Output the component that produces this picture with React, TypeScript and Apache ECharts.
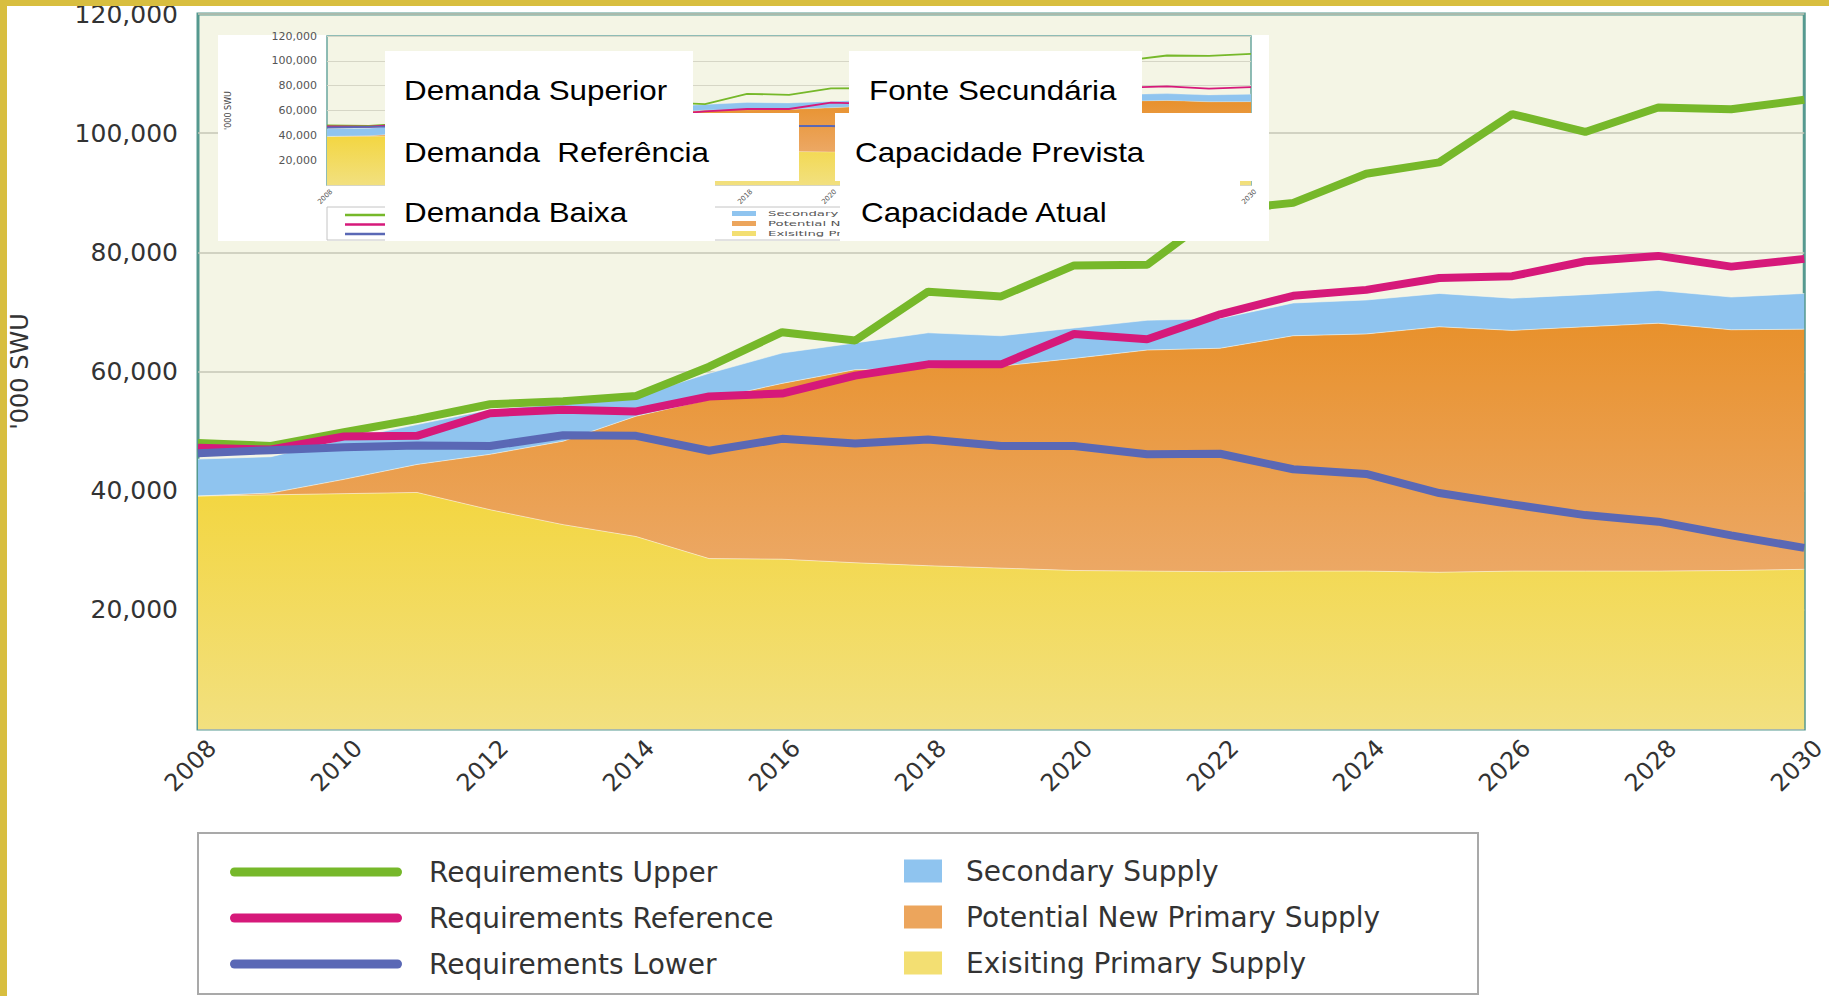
import React, { useEffect, useRef } from "react";
import * as echarts from "echarts";

const years = ["2008", "2009", "2010", "2011", "2012", "2013", "2014", "2015", "2016", "2017", "2018", "2019", "2020", "2021", "2022", "2023", "2024", "2025", "2026", "2027", "2028", "2029", "2030"];

// stacked supply layers ('000 SWU)
const existingPrimarySupply = [39100, 39300, 39500, 39700, 36800, 34300, 32300, 28600, 28500, 27900, 27400, 27000, 26600, 26500, 26400, 26500, 26500, 26300, 26500, 26500, 26500, 26600, 26800];
const potentialNewPrimarySupply = [0, 300, 2400, 4700, 9300, 14000, 20200, 26700, 29500, 32400, 33200, 33900, 35600, 37100, 37500, 39500, 39800, 41200, 40400, 41000, 41600, 40400, 40300];
const secondarySupply = [6200, 6100, 6700, 6700, 7500, 6300, 3300, 4400, 5100, 4500, 5900, 5100, 5100, 5000, 5000, 5500, 5700, 5600, 5400, 5400, 5500, 5500, 6000];

// requirement scenarios ('000 SWU)
const requirementsUpper = [48000, 47500, 49800, 52000, 54500, 55000, 55900, 60800, 66600, 65200, 73400, 72600, 77800, 77900, 87000, 88300, 93200, 95100, 103200, 100200, 104300, 104000, 105600];
const requirementsReference = [47200, 46900, 49100, 49200, 53000, 53600, 53300, 55800, 56300, 59300, 61200, 61200, 66300, 65400, 69600, 72700, 73700, 75700, 76000, 78500, 79400, 77600, 78900];
const requirementsLower = [46300, 46800, 47300, 47600, 47500, 49300, 49200, 46700, 48700, 47900, 48600, 47500, 47500, 46100, 46200, 43600, 42800, 39600, 37700, 35900, 34800, 32500, 30400];

const yMin = 0;
const yMax = 120000;
const yInterval = 20000;

const lineNames = ["Requirements Upper", "Requirements Reference", "Requirements Lower"];
const areaNames = ["Secondary Supply", "Potential New Primary Supply", "Exisiting Primary Supply"];

// Portuguese overlay labels
const ptLeft = ["Demanda Superior", "Demanda  Referência", "Demanda Baixa"];
const ptRight = ["Fonte Secundária", "Capacidade Prevista", "Capacidade Atual"];

const C = {
  upper: "#76b82a",
  reference: "#d6197a",
  lower: "#5a68b5",
  secondary: "#8fc4ef",
  orangeTop: "#e8912c",
  orangeBottom: "#eca865",
  yellowTop: "#f3d641",
  yellowBottom: "#f2e07f",
  plotBg: "#f4f5e5",
  frame: "#55998f",
  border: "#d8be3f",
};

const grad = (a: string, b: string) => ({
  type: "linear", x: 0, y: 0, x2: 0, y2: 1,
  colorStops: [{ offset: 0, color: a }, { offset: 1, color: b }],
});

const fmt = (v: number) => (v === 0 ? "" : v.toLocaleString("en-US"));

function buildSeries(axis: number, lineWidth: number, z: number, stack: string) {
  const areaBase = {
    type: "line", xAxisIndex: axis, yAxisIndex: axis, stack, symbol: "none", z,
    lineStyle: { width: axis === 0 ? 1 : 0.5, color: "rgba(255,252,235,0.55)" },
    emphasis: { disabled: true },
  };
  const lineBase = { type: "line", xAxisIndex: axis, yAxisIndex: axis, symbol: "none", z: z + 1, emphasis: { disabled: true } };
  return [
    { ...areaBase, name: areaNames[2], data: existingPrimarySupply, itemStyle: { color: "#f3df72" }, areaStyle: { color: grad(C.yellowTop, C.yellowBottom), opacity: 1 } },
    { ...areaBase, name: areaNames[1], data: potentialNewPrimarySupply, itemStyle: { color: "#eca55c" }, areaStyle: { color: grad(C.orangeTop, C.orangeBottom), opacity: 1 } },
    { ...areaBase, name: areaNames[0], data: secondarySupply, itemStyle: { color: C.secondary }, areaStyle: { color: C.secondary, opacity: 1 } },
    { ...lineBase, name: lineNames[0], data: requirementsUpper, itemStyle: { color: C.upper }, lineStyle: { width: lineWidth, color: C.upper } },
    { ...lineBase, name: lineNames[1], data: requirementsReference, itemStyle: { color: C.reference }, lineStyle: { width: lineWidth, color: C.reference } },
    { ...lineBase, name: lineNames[2], data: requirementsLower, itemStyle: { color: C.lower }, lineStyle: { width: lineWidth, color: C.lower } },
  ];
}

const capsule = "path://M4.5,0 L167.5,0 A4.5,4.5 0 0 1 167.5,9 L4.5,9 A4.5,4.5 0 0 1 4.5,0 Z";

export default function App() {
  const ref = useRef<HTMLDivElement>(null);
  useEffect(() => {
    if (!ref.current) return;
    const chart = echarts.init(ref.current, null, { renderer: "svg" });
    const lineColors = [C.upper, C.reference, C.lower];
    const areaColors = [C.secondary, "#eca55c", "#f3df72"];

    const graphic: any[] = [
      // legend frame
      { type: "rect", z: 3, shape: { x: 198, y: 833, width: 1280, height: 161 }, style: { fill: "#ffffff", stroke: "#a9a9a9", lineWidth: 2 } },
      // inset white background
      { type: "rect", z: 10, shape: { x: 218, y: 35, width: 1051, height: 206 }, style: { fill: "#ffffff" } },
      // inset legend
      { type: "rect", z: 14, shape: { x: 327, y: 207, width: 780, height: 33 }, style: { fill: "#ffffff", stroke: "#c4c4c4", lineWidth: 1 } },
      ...lineColors.map((c, i) => ({ type: "line", z: 15, shape: { x1: 345, y1: 215 + i * 9.5, x2: 398, y2: 215 + i * 9.5 }, style: { stroke: c, lineWidth: 2.5 } })),
      ...areaColors.map((c, i) => ({ type: "rect", z: 15, shape: { x: 732, y: 211 + i * 10, width: 24, height: 5 }, style: { fill: c } })),
      ...areaNames.map((t, i) => ({ type: "text", z: 15, x: 768, y: 213.5 + i * 10, scaleX: 1.9, style: { text: t, fontSize: 7, fontFamily: "DejaVu Sans", fill: "#555", verticalAlign: "middle", align: "left" } })),
      // white label boxes
      { type: "rect", z: 20, shape: { x: 385, y: 51, width: 308, height: 62 }, style: { fill: "#ffffff" } },
      { type: "rect", z: 20, shape: { x: 385, y: 113, width: 414, height: 68 }, style: { fill: "#ffffff" } },
      { type: "rect", z: 20, shape: { x: 385, y: 181, width: 330, height: 60 }, style: { fill: "#ffffff" } },
      { type: "rect", z: 20, shape: { x: 849, y: 51, width: 293, height: 62 }, style: { fill: "#ffffff" } },
      { type: "rect", z: 20, shape: { x: 835, y: 113, width: 434, height: 68 }, style: { fill: "#ffffff" } },
      { type: "rect", z: 20, shape: { x: 840, y: 181, width: 400, height: 60 }, style: { fill: "#ffffff" } },
      ...ptLeft.map((t, i) => ({ type: "text", z: 21, x: 404, y: [90, 152, 212][i], scaleX: 1.12, style: { text: t, fontSize: 28, fontFamily: "Liberation Sans", fill: "#000", verticalAlign: "middle", align: "left" } })),
      ...ptRight.map((t, i) => ({ type: "text", z: 21, x: [869, 855, 861][i], y: [90, 152, 212][i], scaleX: 1.12, style: { text: t, fontSize: 28, fontFamily: "Liberation Sans", fill: "#000", verticalAlign: "middle", align: "left" } })),
      // slide border
      { type: "rect", z: 30, shape: { x: 0, y: 0, width: 1829, height: 6 }, style: { fill: C.border } },
      { type: "rect", z: 30, shape: { x: 0, y: 0, width: 7, height: 996 }, style: { fill: C.border } },
    ];

    const option: any = {
      animation: false,
      backgroundColor: "#ffffff",
      grid: [
        { left: 198, top: 14, width: 1610, height: 715, show: true, backgroundColor: C.plotBg, borderColor: C.frame, borderWidth: 3, z: 0 },
        { left: 327, top: 36, width: 924, height: 149, show: true, backgroundColor: C.plotBg, borderColor: "#6aa69e", borderWidth: 1.5, z: 11 },
      ],
      xAxis: [
        {
          type: "category", gridIndex: 0, data: years, boundaryGap: false,
          axisLine: { show: false }, axisTick: { show: false }, splitLine: { show: false },
          axisLabel: { interval: 1, rotate: 45, fontSize: 24, fontFamily: "DejaVu Sans", color: "#333", margin: 1, verticalAlign: "top", padding: [8, 0, 0, 0] },
        },
        {
          type: "category", gridIndex: 1, data: years, boundaryGap: false, z: 12,
          axisLine: { show: false }, axisTick: { show: false }, splitLine: { show: false },
          axisLabel: { interval: 1, rotate: 45, fontSize: 7, fontFamily: "DejaVu Sans", color: "#555", margin: 1, verticalAlign: "top", padding: [3, 0, 0, 0] },
        },
      ],
      yAxis: [
        {
          type: "value", gridIndex: 0, min: yMin, max: yMax, interval: yInterval,
          name: "'000 SWU", nameLocation: "middle", nameGap: 166,
          nameTextStyle: { fontSize: 24, fontFamily: "DejaVu Sans", color: "#333" },
          axisLine: { show: false }, axisTick: { show: false },
          splitLine: { show: true, lineStyle: { color: "#c6c6b6", width: 1.5 } },
          axisLabel: { formatter: fmt, fontSize: 25, fontFamily: "DejaVu Sans", color: "#333", margin: 20 },
        },
        {
          type: "value", gridIndex: 1, min: yMin, max: yMax, interval: yInterval, z: 12,
          name: "'000 SWU", nameLocation: "middle", nameGap: 95,
          nameTextStyle: { fontSize: 8, fontFamily: "DejaVu Sans", color: "#444" },
          axisLine: { show: false }, axisTick: { show: false },
          splitLine: { show: true, lineStyle: { color: "#d6d6c6", width: 1 } },
          axisLabel: { formatter: fmt, fontSize: 11, fontFamily: "DejaVu Sans", color: "#555", margin: 10 },
        },
      ],
      legend: [
        {
          orient: "vertical", left: 230, top: 858, padding: 0, itemGap: 18, itemWidth: 172, itemHeight: 9,
          selectedMode: false, itemStyle: { borderWidth: 0 },
          textStyle: { fontSize: 28, fontFamily: "DejaVu Sans", color: "#333", padding: [0, 0, 0, 22] },
          data: lineNames.map((n, i) => ({ name: n, icon: capsule, itemStyle: { color: lineColors[i], borderWidth: 0 } })),
        },
        {
          orient: "vertical", left: 904, top: 857, padding: 0, itemGap: 18, itemWidth: 38, itemHeight: 23,
          selectedMode: false, itemStyle: { borderWidth: 0 },
          textStyle: { fontSize: 28, fontFamily: "DejaVu Sans", color: "#333", padding: [0, 0, 0, 19] },
          data: areaNames.map((n, i) => ({ name: n, icon: "rect", itemStyle: { color: areaColors[i], borderWidth: 0 } })),
        },
      ],
      series: [...buildSeries(0, 8, 2, "main"), ...buildSeries(1, 1.8, 13, "inner")],
      graphic,
    };
    chart.setOption(option);
    return () => chart.dispose();
  }, []);
  return <div ref={ref} style={{ position: "absolute", left: 0, top: 0, width: 1829, height: 996 }} />;
}
